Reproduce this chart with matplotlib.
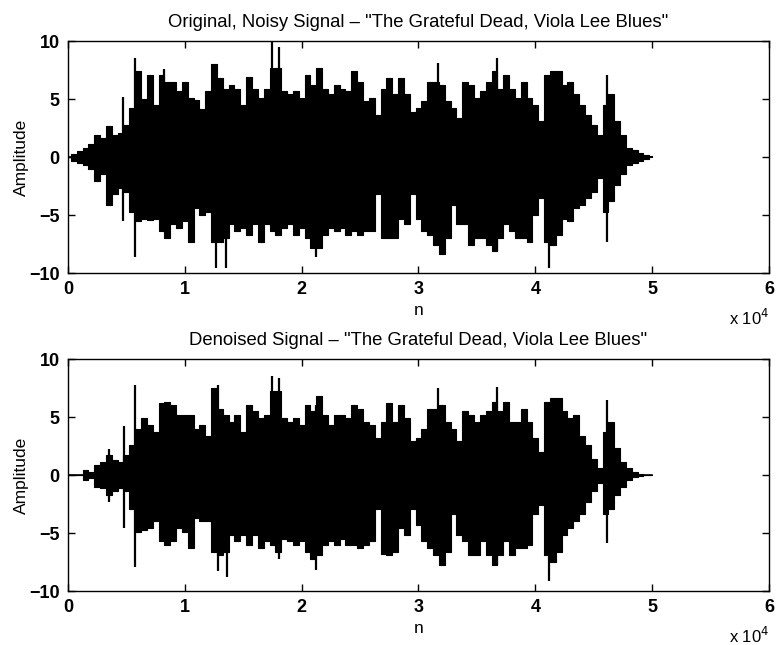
import numpy as np
import matplotlib
matplotlib.use("Agg")
import matplotlib.pyplot as plt
from matplotlib.ticker import FuncFormatter

plt.rcParams['font.family'] = ['Liberation Sans', 'DejaVu Sans']

# sample index grid (every 500 samples, 0 .. 50000)
n_grid = np.arange(0, 50500, 500)

# ---- original, noisy signal: envelope ----
noisy_hi = [0, 0.3, 0.5, 0.8, 1.1, 1.9, 1.6, 2.7, 1.9, 2.1,
            2.8, 4.2, 7.4, 5.0, 7.1, 4.5, 7.1, 6.5, 6.5, 5.7,
            6.5, 5.1, 4.9, 4.1, 5.7, 8.0, 6.8, 5.9, 6.2, 5.9,
            4.5, 6.9, 5.9, 5.1, 5.9, 7.7, 7.7, 5.7, 5.4, 5.7,
            5.1, 7.1, 6.2, 7.7, 5.9, 5.4, 6.2, 5.9, 5.7, 7.4,
            6.5, 4.8, 5.1, 3.6, 5.9, 6.8, 5.4, 6.8, 5.4, 3.9,
            4.2, 4.8, 6.5, 6.5, 6.2, 4.8, 4.2, 3.4, 6.5, 6.2,
            5.1, 5.7, 6.5, 7.4, 5.9, 7.1, 5.9, 5.1, 6.5, 5.1,
            4.5, 3.1, 7.1, 7.4, 7.4, 6.2, 6.5, 5.4, 4.5, 3.6,
            2.8, 1.9, 4.5, 5.4, 3.1, 1.9, 0.8, 0.6, 0.35, 0.2,
            0.05]
noisy_lo = [0, -0.3, -0.5, -0.7, -1.0, -2.1, -1.5, -4.1, -3.2, -2.7,
            -3.0, -4.7, -5.5, -5.3, -5.4, -5.3, -6.4, -7.0, -5.8, -6.1,
            -5.5, -7.3, -4.4, -5.0, -4.7, -7.3, -7.3, -7.0, -5.8, -6.4,
            -6.1, -6.7, -5.8, -7.3, -5.8, -6.4, -6.7, -6.1, -5.8, -6.7,
            -6.1, -7.0, -7.8, -7.8, -6.7, -6.1, -6.4, -6.1, -6.7, -6.4,
            -6.7, -6.4, -6.4, -3.2, -7.0, -7.0, -7.0, -5.3, -5.8, -3.2,
            -5.3, -6.4, -6.7, -7.6, -8.4, -7.0, -4.1, -5.8, -5.8, -7.6,
            -7.0, -7.0, -7.6, -8.1, -7.0, -5.8, -6.4, -7.0, -7.0, -7.3,
            -5.0, -3.5, -7.3, -7.6, -6.7, -5.3, -5.5, -4.4, -4.1, -3.5,
            -3.0, -1.8, -4.7, -3.8, -2.4, -1.5, -0.7, -0.5, -0.3, -0.15,
            0]
noisy_spike_n = [4700, 5700, 8200, 12700, 13500, 17500, 18100, 21200, 31700, 36700, 41200, 46100]
noisy_spike_hi = [5.2, 8.5, 7.6, 6.8, 5.9, 9.9, 9.5, 6.2, 8.1, 8.5, 7.1, 7.1]
noisy_spike_lo = [-5.5, -8.6, -6.4, -9.6, -9.6, -6.4, -6.7, -8.6, -7.6, -8.1, -9.6, -7.3]

# ---- denoised signal ----
clean_hi = [0, 0, 0, 0.4, 0.3, 0.9, 1.1, 1.7, 1.3, 1.1,
            1.7, 2.6, 4.0, 4.9, 4.3, 3.7, 6.2, 6.3, 6.0, 5.2,
            5.2, 5.2, 4.0, 4.3, 3.4, 7.5, 5.7, 5.2, 4.6, 5.2,
            3.7, 6.0, 5.5, 4.9, 5.2, 7.2, 7.2, 4.9, 4.6, 4.9,
            4.3, 6.0, 5.5, 6.8, 5.2, 4.3, 5.2, 5.2, 4.9, 6.0,
            5.7, 4.6, 4.3, 3.2, 4.6, 6.2, 4.6, 6.0, 4.9, 2.9,
            3.2, 4.0, 5.7, 5.7, 6.0, 4.6, 4.0, 2.9, 5.5, 5.2,
            4.6, 5.2, 5.5, 6.3, 5.5, 6.3, 4.6, 4.6, 5.7, 4.6,
            3.2, 2.0, 6.3, 6.6, 6.6, 5.5, 4.9, 5.2, 3.4, 2.6,
            1.4, 0.6, 3.7, 4.6, 2.3, 1.1, 0.6, 0.3, 0.1, 0,
            0]
clean_lo = [0, 0, 0, -0.4, -0.3, -1.0, -1.1, -1.7, -1.4, -1.1,
            -1.4, -2.9, -4.9, -4.7, -4.6, -4.0, -5.7, -6.0, -5.7, -4.6,
            -4.9, -6.3, -3.7, -4.0, -4.0, -6.6, -6.9, -6.6, -5.2, -5.7,
            -5.2, -6.0, -5.2, -6.3, -5.7, -6.0, -6.6, -5.5, -5.7, -6.0,
            -5.7, -6.6, -7.2, -6.9, -6.0, -5.7, -6.0, -5.5, -6.0, -6.0,
            -6.3, -6.0, -5.7, -2.9, -6.8, -6.9, -6.6, -4.6, -5.2, -2.9,
            -4.3, -5.7, -6.3, -6.9, -7.8, -6.6, -3.4, -5.2, -5.7, -6.9,
            -6.9, -5.7, -6.9, -7.8, -6.9, -5.7, -6.9, -6.3, -6.3, -6.0,
            -3.4, -2.6, -6.9, -7.5, -6.6, -5.2, -4.6, -4.0, -3.4, -2.3,
            -1.4, -0.7, -3.4, -2.9, -1.7, -1.0, -0.4, -0.2, -0.1, 0,
            0]
clean_spike_n = [3500, 4800, 5700, 12800, 13600, 17500, 18100, 21200, 31700, 36700, 41200, 46100]
clean_spike_hi = [2.2, 4.2, 7.8, 7.8, 5.2, 8.5, 8.4, 6.0, 7.5, 7.6, 6.3, 6.5]
clean_spike_lo = [-2.3, -4.6, -7.9, -8.3, -8.8, -6.0, -7.2, -8.2, -6.9, -7.8, -9.1, -5.9]

titles = ['Original, Noisy Signal \u2013 "The Grateful Dead, Viola Lee Blues"',
          'Denoised Signal \u2013 "The Grateful Dead, Viola Lee Blues"']

fig = plt.figure(figsize=(7.76, 6.45), dpi=100)
ax1 = fig.add_axes([0.0876, 0.5767, 0.9034, 0.3597])
ax2 = fig.add_axes([0.0876, 0.0837, 0.9034, 0.3597])

panels = [(ax1, noisy_hi, noisy_lo, noisy_spike_n, noisy_spike_hi, noisy_spike_lo),
          (ax2, clean_hi, clean_lo, clean_spike_n, clean_spike_hi, clean_spike_lo)]

for (ax, hi, lo, sn, shi, slo), title in zip(panels, titles):
    ax.fill_between(n_grid, lo, hi, step='mid', color='black', linewidth=0.8, edgecolor='black')
    ax.vlines(sn, slo, shi, color='black', linewidth=1.6)
    ax.plot([0, 50000], [0, 0], color='black', linewidth=1.2)
    ax.set_xlim(0, 60000)
    ax.set_ylim(-10, 10)
    ax.set_xticks(np.arange(0, 60001, 10000))
    ax.set_yticks([-10, -5, 0, 5, 10])
    ax.xaxis.set_major_formatter(FuncFormatter(lambda v, p: f"{v / 1e4:g}"))
    ax.yaxis.set_major_formatter(FuncFormatter(lambda v, p: f"{v:g}".replace("-", "\u2212")))
    ax.tick_params(direction='in', top=True, right=True, length=5, width=1,
                   labelsize=13, pad=6)
    for lab in ax.get_xticklabels() + ax.get_yticklabels():
        lab.set_fontweight('bold')
    for sp in ax.spines.values():
        sp.set_linewidth(1.0)
    ax.set_title(title, fontsize=13.3, pad=10)
    ax.set_xlabel('n', fontsize=12.5, labelpad=3)
    ax.set_ylabel('Amplitude', fontsize=12.5, labelpad=0)
    ax.text(1.0, -0.195, 'x 10$^4$', transform=ax.transAxes, ha='right', va='center', fontsize=12)

fig.savefig('out.png', dpi=100)
